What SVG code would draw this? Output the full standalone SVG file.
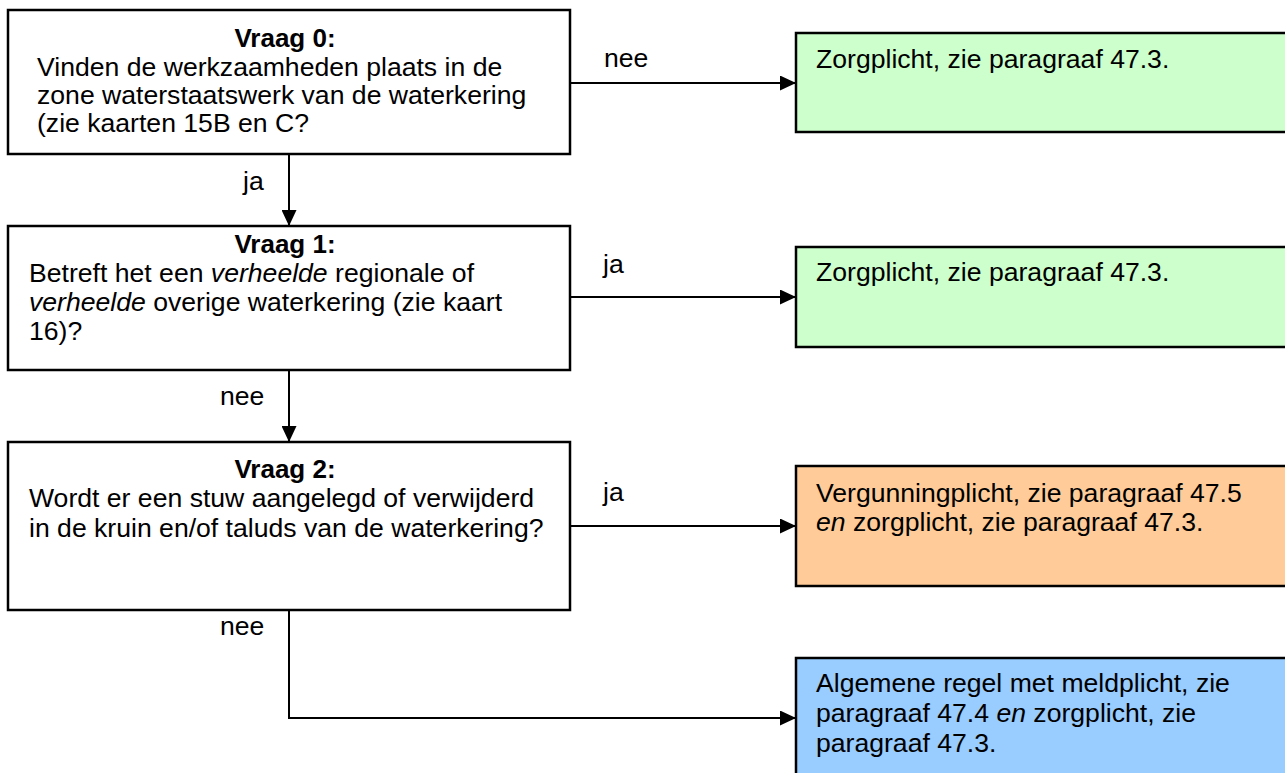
<svg xmlns="http://www.w3.org/2000/svg" width="1285" height="773" viewBox="0 0 1285 773">
<defs>
<style>
text{font-family:"Liberation Sans",Arial,sans-serif;font-size:26.6px;fill:#000}
.t{font-weight:bold;font-size:26px;text-anchor:middle}
.i{font-style:italic}
.box{stroke:#000;stroke-width:2.5}
.q{fill:#fff}
.g{fill:#CCFFCC}
.o{fill:#FFCC99}
.b{fill:#99CCFF}
.c{fill:none;stroke:#000;stroke-width:2}
</style>
<marker id="ah" markerUnits="userSpaceOnUse" markerWidth="16" markerHeight="15" refX="16" refY="7.5" orient="auto">
<path d="M0,0 L16,7.5 L0,15 Z" fill="#000"/>
</marker>
</defs>
<rect width="1285" height="773" fill="#fff"/>
<g id="connectors">
<line class="c" x1="570" y1="83" x2="796" y2="83" marker-end="url(#ah)"/>
<line class="c" x1="289" y1="154" x2="289" y2="226" marker-end="url(#ah)"/>
<line class="c" x1="570" y1="297" x2="796" y2="297" marker-end="url(#ah)"/>
<line class="c" x1="289" y1="370" x2="289" y2="442" marker-end="url(#ah)"/>
<line class="c" x1="570" y1="526" x2="796" y2="526" marker-end="url(#ah)"/>
<polyline class="c" points="289,610 289,718 796,718" marker-end="url(#ah)"/>
<text x="604" y="67">nee</text>
<text x="243" y="190">ja</text>
<text x="603" y="273">ja</text>
<text x="220" y="405">nee</text>
<text x="603" y="501">ja</text>
<text x="220" y="635">nee</text>
</g>
<g id="q0">
<rect class="box q" x="8" y="10" width="562" height="144"/>
<text class="t" x="285" y="47">Vraag 0:</text>
<text x="37" y="76">Vinden de werkzaamheden plaats in de</text>
<text x="37" y="104">zone waterstaatswerk van de waterkering</text>
<text x="37" y="132">(zie kaarten 15B en C?</text>
</g>
<g id="q1">
<rect class="box q" x="8" y="226" width="562" height="144"/>
<text class="t" x="285" y="253">Vraag 1:</text>
<text x="29" y="282">Betreft het een <tspan class="i">verheelde</tspan> regionale of</text>
<text x="29" y="311"><tspan class="i">verheelde</tspan> overige waterkering (zie kaart</text>
<text x="29" y="340">16)?</text>
</g>
<g id="q2">
<rect class="box q" x="8" y="442" width="562" height="168"/>
<text class="t" x="285" y="478">Vraag 2:</text>
<text x="29" y="507">Wordt er een stuw aangelegd of verwijderd</text>
<text x="29" y="537">in de kruin en/of taluds van de waterkering?</text>
</g>
<g id="r0">
<rect class="box g" x="796" y="33" width="510" height="99"/>
<text x="816" y="68">Zorgplicht, zie paragraaf 47.3.</text>
</g>
<g id="r1">
<rect class="box g" x="796" y="247" width="510" height="100"/>
<text x="816" y="281">Zorgplicht, zie paragraaf 47.3.</text>
</g>
<g id="r2">
<rect class="box o" x="796" y="466" width="510" height="120"/>
<text x="816" y="502">Vergunningplicht, zie paragraaf 47.5</text>
<text x="816" y="531"><tspan class="i">en</tspan> zorgplicht, zie paragraaf 47.3.</text>
</g>
<g id="r3">
<rect class="box b" x="796" y="658" width="510" height="130"/>
<text x="816" y="692">Algemene regel met meldplicht, zie</text>
<text x="816" y="722">paragraaf 47.4 <tspan class="i">en</tspan> zorgplicht, zie</text>
<text x="816" y="752">paragraaf 47.3.</text>
</g>
</svg>
